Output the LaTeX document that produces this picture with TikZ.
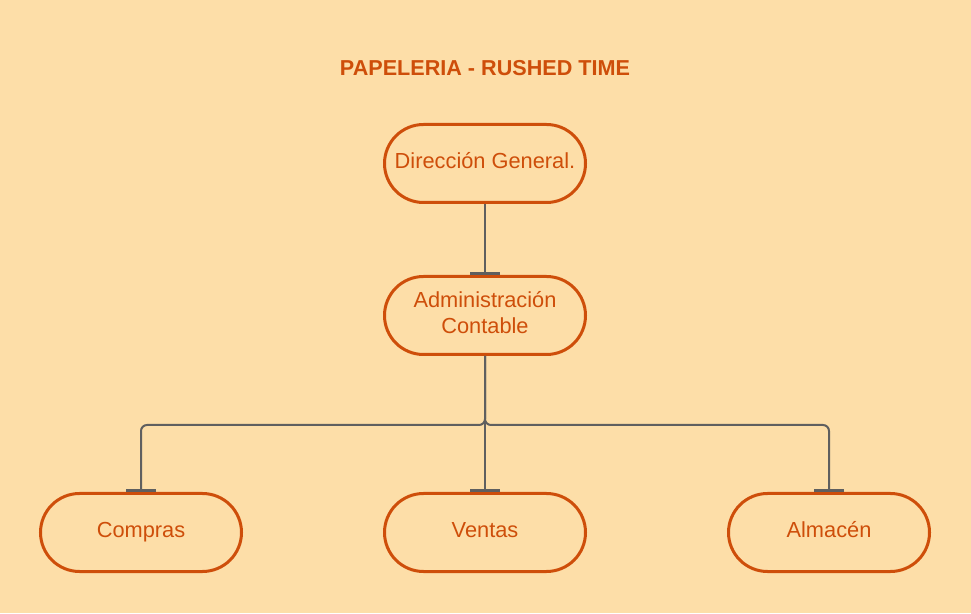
\documentclass[tikz,border=0pt]{standalone}
\usepackage{fontspec}
\setmainfont{Liberation Sans}
\usetikzlibrary{arrows.meta}
\definecolor{bgc}{RGB}{253,222,168}
\definecolor{orc}{RGB}{206,78,10}
\definecolor{lnc}{RGB}{95,95,95}
\begin{document}
\begin{tikzpicture}[x=1pt,y=1pt,
  unit/.style={draw=orc, line width=3pt, text=orc, rounded corners=39pt,
    minimum width=201pt, minimum height=78pt, align=center,
    font=\fontsize{21.8}{26.5}\selectfont, inner sep=0pt,
    text height=15.6pt, text depth=5pt},
  twoline/.style={text height=42.1pt, text depth=5.5pt},
  link/.style={draw=lnc, line width=2pt, rounded corners=6pt,
    -{Bar[width=30pt,line width=2.5pt]}},
  titlestyle/.style={text=orc, font=\fontsize{21.6}{26}\selectfont\bfseries}]
\fill[bgc] (0,0) rectangle (971,613);
\useasboundingbox (0,0) rectangle (971,613);
\node[titlestyle] (title) at (485,545) {PAPELERIA - RUSHED TIME};
\node[unit] (dir) at (485,449.5) {Dirección General.};
\node[unit,twoline] (adm) at (485,297.5) {Administración\\Contable};
\node[unit] (com) at (141,80.5) {Compras};
\node[unit] (ven) at (485,80.5) {Ventas};
\node[unit] (alm) at (829,80.5) {Almacén};
\coordinate (hub) at (485,188);
\draw[link] (dir.south) -- (adm.north);
\draw[link] (adm.south) -- (ven.north);
\draw[link] (adm.south) -- (hub) -| (com.north);
\draw[link] (adm.south) -- (hub) -| (alm.north);
\end{tikzpicture}
\end{document}
